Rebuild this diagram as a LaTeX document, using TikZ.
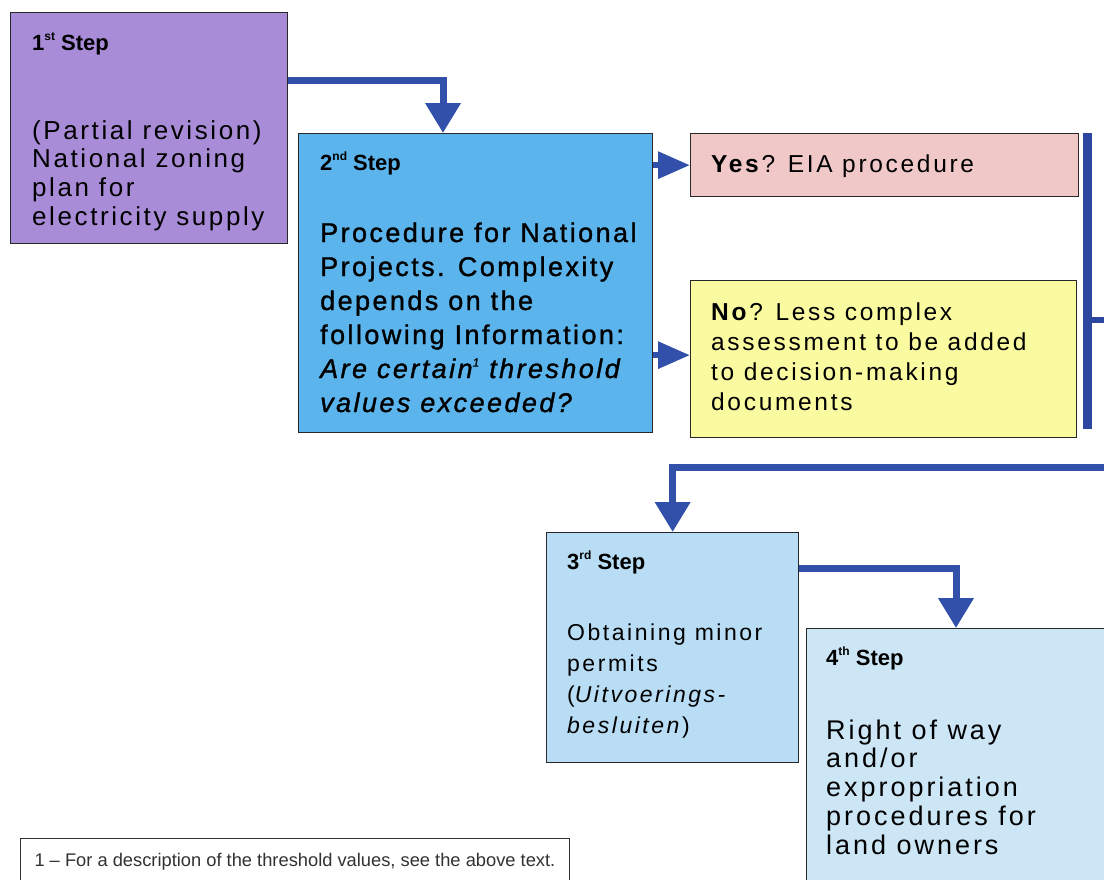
\documentclass[tikz,border=0pt]{standalone}
\usepackage{fontspec}
\setmainfont{Liberation Sans}
\newfontfamily\bodyfont[LetterSpace=11]{Liberation Sans}
\newfontfamily\onefont[LetterSpace=10]{Liberation Sans}
\newfontfamily\medfont[LetterSpace=9,FakeBold=1.2]{Liberation Sans}
\usetikzlibrary{arrows.meta,calc}

\definecolor{boxline}{RGB}{40,40,40}
\definecolor{stepone}{RGB}{169,140,215}
\definecolor{steptwo}{RGB}{92,180,236}
\definecolor{yesfill}{RGB}{240,200,200}
\definecolor{nofill}{RGB}{250,250,160}
\definecolor{stepthree}{RGB}{184,221,245}
\definecolor{stepfour}{RGB}{205,230,246}
\definecolor{linkblue}{RGB}{50,80,170}
\definecolor{barblue}{RGB}{45,70,160}
\definecolor{notegray}{RGB}{50,50,50}

% small raised ordinal / footnote marks
\newcommand\upidx[1]{\raisebox{0.42em}{\fontsize{12}{12}\selectfont #1}}

\begin{document}
\begin{tikzpicture}[x=1pt,y=-1pt,
  box/.style={draw=boxline, line width=1.3pt, anchor=north west, inner sep=0pt, rectangle},
  head/.style={anchor=base west, inner sep=0pt, font=\fontsize{22}{26}\selectfont\bfseries},
  bodyone/.style={anchor=base west, inner sep=0pt, font=\fontsize{26}{29}\selectfont\onefont},
  bodytwo/.style={anchor=base west, inner sep=0pt, font=\fontsize{27}{34}\selectfont\medfont},
  bodyout/.style={anchor=base west, inner sep=0pt, font=\fontsize{24.5}{30}\selectfont\bodyfont},
  bodythree/.style={anchor=base west, inner sep=0pt, font=\fontsize{23}{29}\selectfont\bodyfont},
  bodyfour/.style={anchor=base west, inner sep=0pt, font=\fontsize{27}{29}\selectfont\bodyfont},
  conn/.style={draw=linkblue, line width=7pt, line join=miter,
    -{Triangle[length=30pt,width=34pt]}},
  short/.style={draw=linkblue, line width=6pt,
    -{Triangle[length=32pt,width=26pt]}},
  bar/.style={draw=barblue, line width=9pt},
  branch/.style={draw=barblue, line width=6pt},
]
\useasboundingbox (0,0) rectangle (1104,879);
\clip (0,0) rectangle (1104,879);
\fill[white] (0,0) rectangle (1104,879);

% step boxes
\node[box, fill=stepone, minimum width=277pt, minimum height=231pt] (s1) at (10,12) {};
\node[box, fill=steptwo, minimum width=354pt, minimum height=299pt] (s2) at (298,133) {};
\node[box, fill=yesfill, minimum width=388pt, minimum height=63pt] (yes) at (690,133) {};
\node[box, fill=nofill, minimum width=386pt, minimum height=157pt] (no) at (690,280) {};
\node[box, fill=stepthree, minimum width=252pt, minimum height=230pt] (s3) at (546,532) {};
\node[box, fill=stepfour, minimum width=320pt, minimum height=270pt] (s4) at (806,628) {};

% step 1 text
\node[head] (h1) at (32,50) {1\upidx{st} Step};
\foreach \t [count=\i] in {{(Partial revision)},{National zoning},{plan for},{electricity supply}}
  \node[bodyone] (a\i) at (32,{139+28.7*(\i-1)}) {\t};

% step 2 text
\node[head] (h2) at (320,170) {2\upidx{nd} Step};
\foreach \t [count=\i] in {{Procedure for National},{Projects. Complexity},{depends on the},{following Information:},{\itshape Are certain\upidx{1} threshold},{\itshape values exceeded?}}
  \node[bodytwo] (b\i) at (320,{242+34*(\i-1)}) {\t};

% outcomes
\node[bodyout] (yt) at (711,172) {\textbf{Yes}? EIA procedure};
\foreach \t [count=\i] in {{\textbf{No}? Less complex},{assessment to be added},{to decision-making},{documents}}
  \node[bodyout] (n\i) at (711,{320+30*(\i-1)}) {\t};

% step 3 text
\node[head] (h3) at (567,569) {3\upidx{rd} Step};
\foreach \t [count=\i] in {{Obtaining minor},{permits},{(\textit{Uitvoerings-}},{\textit{besluiten})}}
  \node[bodythree] (c\i) at (567,{640+31*(\i-1)}) {\t};

% step 4 text
\node[head] (h4) at (826,665) {4\upidx{th} Step};
\foreach \t [count=\i] in {{Right of way},{and/or},{expropriation},{procedures for},{land owners}}
  \node[bodyfour] (d\i) at (826,{739+28.8*(\i-1)}) {\t};

% footnote
\node[draw=notegray, line width=1pt, anchor=north west, inner xsep=14pt,
      minimum height=46pt, text=notegray, font=\fontsize{18.3}{22}\selectfont] (fn) at (20,838)
  {1 -- For a description of the threshold values, see the above text.};

% connectors
\draw[conn] ($(s1.north east)+(0,68)$) -| ($(s2.north west)+(145,0)$);
\draw[short] (s2.east |- yes.west) -- (yes.west);
\draw[short] ($(s2.east |- no.west)+(0,-4)$) -- ($(no.west)+(0,-4)$);

\coordinate (bartop) at ($(yes.north east)+(8,0)$);
\coordinate (barbot) at ($(no.south east)+(10,-9)$);
\coordinate (barmid) at ($(bartop)!0.63!(barbot)$);
\coordinate (edgeA) at (1110,0);
\draw[bar] (bartop) -- (barbot);
\draw[branch] (barmid) -- (barmid -| edgeA);

\coordinate (feedin) at (1110,467);
\draw[conn] (feedin) -| (s3.north);
\draw[conn] ($(s3.north east)+(0,36)$) -| ($(s4.north west)+(150,0)$);
\end{tikzpicture}
\end{document}
